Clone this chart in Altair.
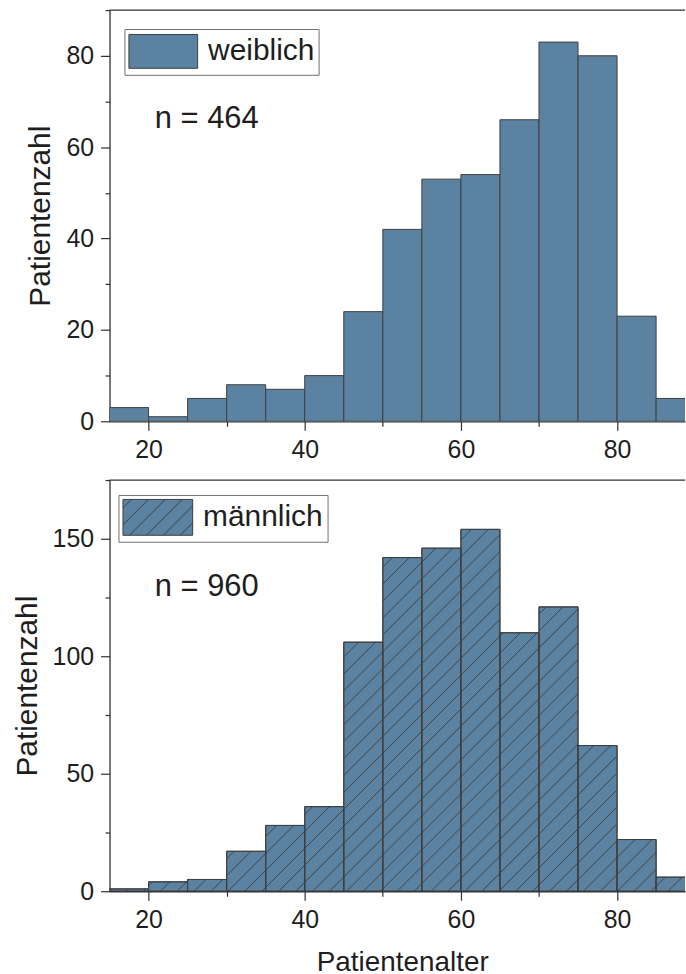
import math
import altair as alt
import pandas as pd

# ---------------- data ----------------
bin_starts = [15, 20, 25, 30, 35, 40, 45, 50, 55, 60, 65, 70, 75, 80, 85]
bin_width = 5
female_counts = [3, 1, 5, 8, 7, 10, 24, 42, 53, 54, 66, 83, 80, 23, 5]
male_counts = [1, 4, 5, 17, 28, 36, 106, 142, 146, 154, 110, 121, 62, 22, 6]
female_label = "weiblich"
male_label = "männlich"
x_tick_values = [20, 30, 40, 50, 60, 70, 80]
y_ticks_female = [0, 10, 20, 30, 40, 50, 60, 70, 80, 90]
y_ticks_male = [0, 25, 50, 75, 100, 125, 150, 175]
x_title = "Patientenalter"
y_title = "Patientenzahl"

# ---------------- style ----------------
FILL = "#5b82a0"
EDGE = "#3e3e3e"
AXIS = "#303030"
TEXT = "#1e1e1e"
FONT = "Liberation Sans"
X_DOMAIN = [15, 88.7]
W = 578
H = 413
HATCH_PX = 17.0
SYM = 36  # legend symbol nominal size (sqrt)


def bar_frame(counts, label):
    return pd.DataFrame({
        "start": bin_starts,
        "end": [s + bin_width for s in bin_starts],
        "count": counts,
        "sex": [label] * len(counts),
    })


def hatch_frame(counts, ymax):
    ax = W / (X_DOMAIN[1] - X_DOMAIN[0])
    by = H / ymax
    k = ax / by
    s = HATCH_PX / ax
    rows = []
    for x0, h in zip(bin_starts, counts):
        x1 = x0 + bin_width
        i_min = math.floor((x0 - h / k - X_DOMAIN[0]) / s) - 1
        i_max = math.ceil((x1 - X_DOMAIN[0]) / s) + 1
        for i in range(i_min, i_max + 1):
            xc = X_DOMAIN[0] + i * s
            xa = max(x0, xc)
            xb = min(x1, xc + h / k)
            if xb - xa > 1e-6:
                rows.append({"x": xa, "y": (xa - xc) * k, "x2": xb, "y2": (xb - xc) * k})
    return pd.DataFrame(rows)


def swatch_path(w_px, h_px, hatch):
    u = SYM / 2.0
    x0, x1 = -1.0, -1.0 + w_px / u
    hh = h_px / (2 * u)
    p = f"M{x0:.4f},{-hh:.4f}H{x1:.4f}V{hh:.4f}H{x0:.4f}Z"
    if hatch:
        step = HATCH_PX / u
        c = x0 - hh + step / 2
        while c < x1 + hh:
            xa = max(x0, c - hh)
            xb = min(x1, c + hh)
            if xb - xa > 1e-4:
                p += f"M{xa:.4f},{c - xa:.4f}L{xb:.4f},{c - xb:.4f}"
            c += step
    return p


def panel(counts, label, ymax, yvals, ymajor, hatch, legend_xy, swatch, show_x_title, n_y):
    bars = bar_frame(counts, label)
    n_text = pd.DataFrame({"x": [20.8], "y": [n_y], "t": [f"n = {sum(counts)}"]})

    x_axis = alt.Axis(
        values=x_tick_values,
        labelExpr="datum.value % 20 == 0 ? datum.label : ''",
        tickSize={"condition": {"test": "datum.value % 20 == 0", "value": 9}, "value": 5},
        labelPadding=7.5,
        title=x_title if show_x_title else None,
        titleFontSize=28,
        titlePadding=16.5,
        titleX=294,
    )
    y_axis = alt.Axis(
        values=yvals,
        labelExpr=f"datum.value % {ymajor} == 0 ? datum.label : ''",
        tickSize={"condition": {"test": f"datum.value % {ymajor} == 0", "value": 9}, "value": 4.5},
        labelPadding=7,
        title=y_title,
        titleFontSize=30,
        titlePadding=10,
    )
    xs = alt.Scale(domain=X_DOMAIN, nice=False, zero=False)
    ys = alt.Scale(domain=[0, ymax], nice=False)

    sw_w, sw_h = swatch
    legend = alt.Legend(
        orient="none",
        legendX=legend_xy[0],
        legendY=legend_xy[1],
        symbolType=swatch_path(sw_w, sw_h, hatch),
        symbolSize=SYM * SYM,
        symbolStrokeColor=EDGE,
        symbolStrokeWidth=1,
        symbolOpacity=1,
        labelFontSize=30,
        labelFont=FONT,
        labelColor=TEXT,
        labelOffset=(sw_w - SYM) + 10,
        padding=4,
        strokeColor="#707070",
        fillColor="white",
    )

    base_bars = alt.Chart(bars).mark_bar(clip=True, stroke=EDGE, strokeWidth=1, opacity=1).encode(
        x=alt.X("start:Q", scale=xs, axis=x_axis),
        x2="end:Q",
        y=alt.Y("count:Q", scale=ys, axis=y_axis),
        y2=alt.datum(0),
        color=alt.Color("sex:N", scale=alt.Scale(domain=[label], range=[FILL]), legend=legend, title=None),
    )
    layers = [base_bars]
    if hatch:
        hf = hatch_frame(counts, ymax)
        hatch_lines = alt.Chart(hf).mark_rule(clip=True, color=EDGE, strokeWidth=0.9).encode(
            x="x:Q", y="y:Q", x2="x2:Q", y2="y2:Q"
        )
        outline = alt.Chart(bars).mark_bar(clip=True, fillOpacity=0, stroke=EDGE, strokeWidth=1).encode(
            x="start:Q", x2="end:Q", y="count:Q", y2=alt.datum(0)
        )
        layers += [hatch_lines, outline]
    txt = alt.Chart(n_text).mark_text(align="left", baseline="alphabetic", fontSize=31,
                                      font=FONT, color=TEXT).encode(
        x="x:Q", y="y:Q", text="t:N"
    )
    frame = alt.Chart(n_text).mark_rule(color=AXIS, strokeWidth=1.3).encode(
        x=alt.value(0), x2=alt.value(W), y=alt.value(0)
    )
    layers += [txt, frame]
    return alt.layer(*layers).properties(width=W, height=H)


top = panel(female_counts, female_label, 90, y_ticks_female, 20, False, (15, 19), (69, 34), False, 64.2)
bottom = panel(male_counts, male_label, 175, y_ticks_male, 50, True, (9, 15), (70, 36), True, 125.8)

chart = alt.vconcat(top, bottom, spacing=16).resolve_scale(
    color="independent"
).resolve_legend(
    color="independent"
).properties(
    padding={"left": 12, "top": 7, "right": 0, "bottom": -6}
).configure_view(stroke=None).configure_axis(
    grid=False,
    domainColor=AXIS,
    domainWidth=1.3,
    tickColor=AXIS,
    tickWidth=1.2,
    labelFont=FONT,
    labelFontSize=25,
    labelColor=TEXT,
    titleFont=FONT,
    titleFontWeight="normal",
    titleColor=TEXT,
)

chart.save("out.html", embed_options={"renderer": "svg", "actions": False})
